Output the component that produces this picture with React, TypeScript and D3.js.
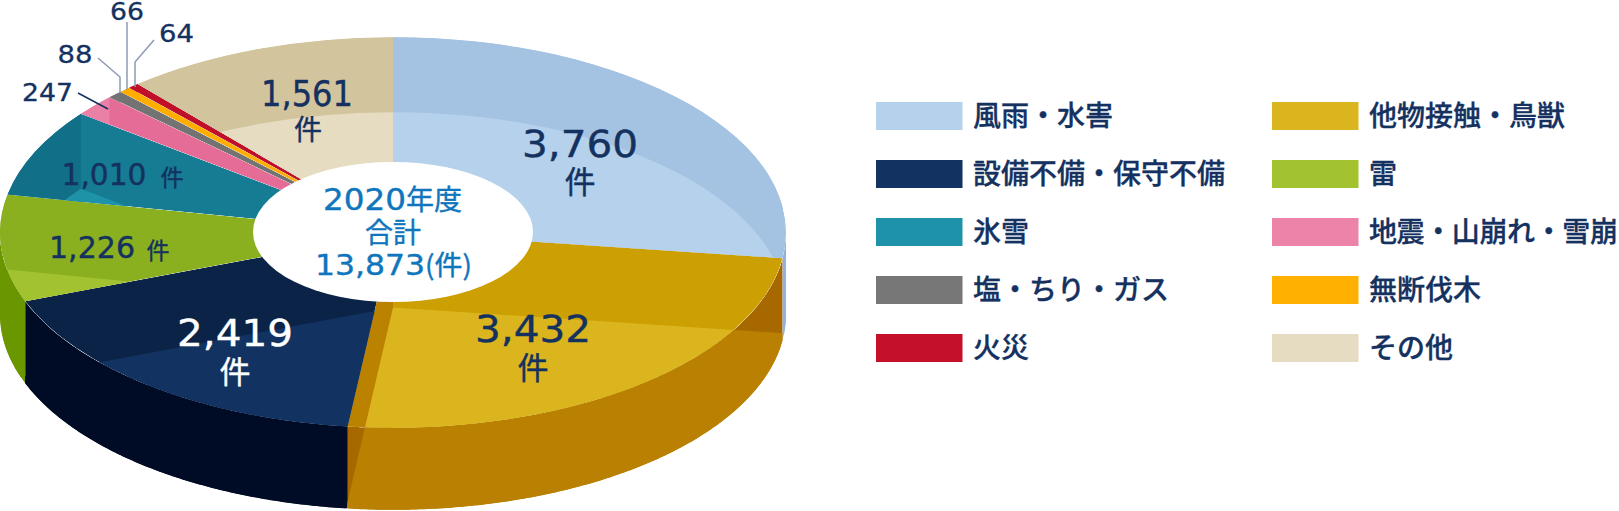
import * as d3 from 'd3';

const categories = ['風雨・水害', '他物接触・鳥獣', '設備不備・保守不備', '雷', '氷雪', '地震・山崩れ・雪崩', '塩・ちり・ガス', '無断伐木', '火災', 'その他'];
const values = [3760, 3432, 2419, 1226, 1010, 247, 88, 66, 64, 1561];

// colours per slice, in the same order as categories
const litColors = ['#b6d1eb', '#dbb51d', '#123361', '#a2c22f', '#1d92a8', '#ec83a8', '#777777', '#ffb000', '#c4102b', '#e6dcc2'];
const topColors = ['#a4c3e2', '#cc9f02', '#0b2347', '#8aaf1f', '#157c93', '#e46c97', '#737373', '#ffae00', '#c00f28', '#d2c49d'];
const bandColors = ['#a4c3e2', '#bb8200', '#0b2347', '#8aaf1f', '#116f88', '#ea80a6', '#737373', '#ffae00', '#c00f28', '#d2c49d'];
const sideColors = ['#8fb3da', '#b98001', '#000b26', '#6a9600', '#0e5a70', '#b9557a', '#555555', '#c98a00', '#8c0a1c', '#a89a78'];
const sideDarkColors = ['#8fb3da', '#a86800', '#000b26', '#6a9600', '#0e5a70', '#b9557a', '#555555', '#c98a00', '#8c0a1c', '#a89a78'];

// legend order: column 1 then column 2
const legendOrder = [0, 2, 4, 6, 8, 1, 3, 5, 7, 9];

const width = 1619;
const height = 511;
const cx = 393;
const cy = 232.5;
const rx = 393;
const squash = 0.497;
const depth = 82;
const lightShift = 75;
const holeRx = 140;
const holeRy = 70;

const navy = '#14315f';
const blue = '#0f75bc';
const leader = '#8c9bb3';
const digitFont = '"DejaVu Sans","Noto Sans CJK JP",sans-serif';
const cjkFont = '"Noto Sans CJK JP",sans-serif';

const bigLabels = [
  { i: 0, x: 580, y: 157, size: 38, w: 116, unitX: 580, unitY: 193, unitSize: 31, color: navy },
  { i: 1, x: 533, y: 342, size: 38, w: 116, unitX: 533, unitY: 379, unitSize: 31, color: navy },
  { i: 2, x: 235, y: 346, size: 38, w: 116, unitX: 235, unitY: 383, unitSize: 31, color: '#ffffff' },
  { i: 9, x: 307, y: 106, size: 35, w: 92, unitX: 308, unitY: 140, unitSize: 28, color: navy },
  { i: 4, x: 104, y: 185, size: 30, w: 85, unitX: 172, unitY: 186, unitSize: 23, color: navy },
  { i: 3, x: 92, y: 258, size: 30, w: 86, unitX: 158, unitY: 259, unitSize: 23, color: navy },
];

const smallLabels = [
  { i: 5, x: 47.5, y: 101, w: 51 },
  { i: 6, x: 75, y: 63, w: 35 },
  { i: 7, x: 127, y: 20, w: 34 },
  { i: 8, x: 176.5, y: 42, w: 35 },
];

const leaders = [
  { color: navy, points: [[78, 93], [108, 109]] },
  { color: leader, points: [[98, 58], [120, 77], [120, 93]] },
  { color: leader, points: [[127, 22], [127, 90]] },
  { color: leader, points: [[154, 40], [135, 62], [135, 87]] },
];

const fmt = d3.format(',');

const slices = d3.pie<number>().sort(null).startAngle(0).endAngle(2 * Math.PI)(values);
const wedge = d3.arc<d3.PieArcDatum<number>>().innerRadius(0).outerRadius(rx);
const bigWedge = d3.arc<d3.PieArcDatum<number>>().innerRadius(0).outerRadius(rx * 1.3);
const polyline = d3.line();

function rimPoint(a: number, dy: number): [number, number] {
  return [cx + rx * Math.sin(a), cy + dy - rx * squash * Math.cos(a)];
}

// the part of the rim wall that faces the viewer
function sidePath(a0: number, a1: number) {
  const from = Math.max(a0, Math.PI / 2);
  const to = Math.min(a1, (3 * Math.PI) / 2);
  if (to <= from) return null;
  const steps = d3.range(from, to, 0.01).concat(to);
  const pts = steps.map(a => rimPoint(a, 0)).concat(steps.slice().reverse().map(a => rimPoint(a, depth)));
  return polyline(pts) + 'Z';
}

function bandLimit(i: number, a1: number) {
  if (i === 1) return cx;
  return rimPoint(a1, 0)[0];
}

export default function App() {
  const topT = `translate(${cx},${cy}) scale(1,${squash})`;
  const litT = `translate(${cx},${cy + lightShift}) scale(1,${squash})`;
  return (
    <svg width={width} height={height} style={{ position: 'absolute', left: 0, top: 0, display: 'block' }}>
      <defs>
        {slices.map((d, i) => {
          const side = sidePath(d.startAngle, d.endAngle);
          return (
            <g key={i}>
              <clipPath id={`top-${i}`}>
                <path d={wedge(d)!} transform={topT} />
              </clipPath>
              {side && (
                <clipPath id={`side-${i}`}>
                  <path d={side} />
                </clipPath>
              )}
            </g>
          );
        })}
      </defs>

      {/* rim */}
      {slices.map((d, i) => {
        const side = sidePath(d.startAngle, d.endAngle);
        if (!side) return null;
        return (
          <g key={i} clipPath={`url(#side-${i})`}>
            <path d={side} fill={sideDarkColors[i]} />
            <path d={bigWedge(d)!} transform={litT} fill={sideColors[i]} />
          </g>
        );
      })}

      {/* top face with shifted highlight */}
      {slices.map((d, i) => (
        <g key={i} clipPath={`url(#top-${i})`}>
          <path d={wedge(d)!} transform={topT} fill={topColors[i]} />
          <rect x={0} y={0} width={bandLimit(i, d.endAngle)} height={height} fill={bandColors[i]} />
          <path d={wedge(d)!} transform={litT} fill={litColors[i]} />
        </g>
      ))}

      <ellipse cx={cx} cy={232} rx={holeRx} ry={holeRy} fill='#ffffff' />

      <g textAnchor='start' fill={blue} stroke={blue} strokeWidth={0.4}>
        <text x={323} y={210} fontFamily={digitFont} fontSize={30} textLength={83} lengthAdjust='spacingAndGlyphs'>2020</text>
        <text x={406} y={210} fontFamily={cjkFont} fontSize={28}>年度</text>
        <text x={365} y={243} fontFamily={cjkFont} fontSize={28}>合計</text>
        <text x={315} y={275} fontFamily={digitFont} fontSize={29} textLength={110} lengthAdjust='spacingAndGlyphs'>{fmt(13873)}</text>
        <text x={425} y={275} fontFamily={cjkFont} fontSize={27} textLength={47} lengthAdjust='spacingAndGlyphs'>(件)</text>
      </g>

      <g textAnchor='middle'>
        {bigLabels.map(l => (
          <g key={l.i} fill={l.color} stroke={l.color} strokeWidth={0.4}>
            <text x={l.x} y={l.y} fontFamily={digitFont} fontSize={l.size} textLength={l.w} lengthAdjust='spacingAndGlyphs'>{fmt(values[l.i])}</text>
            <text x={l.unitX} y={l.unitY} fontFamily={cjkFont} fontSize={l.unitSize}>件</text>
          </g>
        ))}
        {smallLabels.map(l => (
          <text key={l.i} x={l.x} y={l.y} fontFamily={digitFont} fontSize={25} textLength={l.w} lengthAdjust='spacingAndGlyphs' fill={navy} stroke={navy} strokeWidth={0.3}>{fmt(values[l.i])}</text>
        ))}
      </g>

      {leaders.map((l, i) => (
        <path key={i} d={polyline(l.points as [number, number][])!} fill='none' stroke={l.color} strokeWidth={1.5} />
      ))}

      {/* legend */}
      {legendOrder.map((c, k) => {
        const col = k < 5 ? 0 : 1;
        const row = k % 5;
        const x = col === 0 ? 876 : 1272;
        const y = 102 + row * 58;
        return (
          <g key={c}>
            <rect x={x} y={y} width={86.5} height={28} fill={litColors[c]} />
            <text
              x={x + 97}
              y={y + 24}
              fontFamily={cjkFont}
              fontSize={28}
              fontWeight={500}
              fill={navy}
              stroke={navy}
              strokeWidth={0.3}
              textLength={categories[c].length === 9 && col === 1 ? 249 : undefined}
            >
              {categories[c]}
            </text>
          </g>
        );
      })}
    </svg>
  );
}
